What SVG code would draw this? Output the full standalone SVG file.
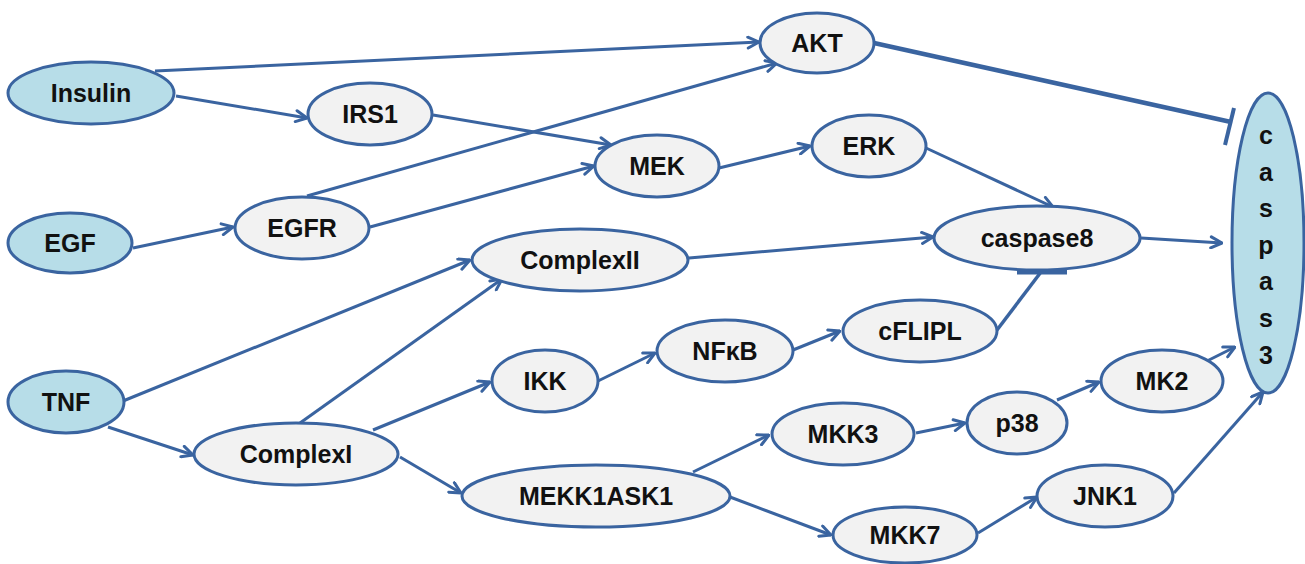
<svg xmlns="http://www.w3.org/2000/svg" width="1305" height="564" viewBox="0 0 1305 564">
<style>
.n{fill:#F2F2F2;stroke:#3A64A0;stroke-width:3}
.s{fill:#B7DDE8;stroke:#3A64A0;stroke-width:3}
.t{font-family:"Liberation Sans",Arial,sans-serif;font-weight:bold;font-size:25px;fill:#111;text-anchor:middle}
.e{stroke:#3A64A0;stroke-width:3;fill:none;marker-end:url(#arr)}
.i{stroke:#3A64A0;fill:none}
</style>
<defs>
<marker id="arr" markerUnits="userSpaceOnUse" viewBox="0 0 14 14" refX="13" refY="7" markerWidth="14" markerHeight="14" orient="auto">
<path d="M2,1.5 L13,7 L2,12.5" fill="none" stroke="#3A64A0" stroke-width="3" stroke-linecap="round" stroke-linejoin="round"/>
</marker>
</defs>
<rect width="1305" height="564" fill="#fff"/>
<g id="connectors">
<line class="e" x1="155" y1="71" x2="759" y2="42"/>
<line class="e" x1="176" y1="96" x2="307" y2="118"/>
<line class="e" x1="433" y1="115" x2="611" y2="145"/>
<line class="e" x1="307" y1="196" x2="777" y2="63"/>
<line class="e" x1="370" y1="227" x2="594" y2="166"/>
<line class="e" x1="719" y1="168" x2="810" y2="146"/>
<line class="e" x1="926" y1="148" x2="1053" y2="207"/>
<line class="e" x1="133" y1="248" x2="233" y2="227"/>
<line class="e" x1="689" y1="258" x2="933" y2="237"/>
<line class="e" x1="1141" y1="238" x2="1222" y2="243"/>
<line class="i" stroke-width="4.5" x1="874" y1="43" x2="1231" y2="122"/>
<line class="i" stroke-width="4" x1="1234" y1="108" x2="1225" y2="145"/>
<line class="i" stroke-width="3.5" x1="997" y1="330" x2="1041" y2="272"/>
<line class="i" stroke-width="5" x1="1017" y1="272" x2="1067" y2="272"/>
<line class="e" x1="123" y1="401" x2="470" y2="260"/>
<line class="e" x1="108" y1="427" x2="193" y2="455"/>
<line class="e" x1="300" y1="423" x2="502" y2="279"/>
<line class="e" x1="373" y1="430" x2="490" y2="382"/>
<line class="e" x1="598" y1="381" x2="655" y2="353"/>
<line class="e" x1="793" y1="350" x2="840" y2="331"/>
<line class="e" x1="400" y1="457" x2="461" y2="493"/>
<line class="e" x1="693" y1="472" x2="769" y2="435"/>
<line class="e" x1="730" y1="497" x2="831" y2="535"/>
<line class="e" x1="916" y1="433" x2="965" y2="423"/>
<line class="e" x1="1057" y1="400" x2="1099" y2="382"/>
<line class="e" x1="1203" y1="363" x2="1235" y2="347"/>
<line class="e" x1="978" y1="533" x2="1037" y2="497"/>
<line class="e" x1="1174" y1="493" x2="1263" y2="392"/>
</g>
<g id="Insulin"><ellipse class="s" cx="91" cy="93" rx="83" ry="31"/><text class="t" x="91" y="102">Insulin</text></g>
<g id="EGF"><ellipse class="s" cx="70" cy="243" rx="62" ry="30"/><text class="t" x="70" y="252">EGF</text></g>
<g id="TNF"><ellipse class="s" cx="66" cy="402" rx="58" ry="31"/><text class="t" x="66" y="411">TNF</text></g>
<g id="IRS1"><ellipse class="n" cx="370" cy="114" rx="62" ry="31"/><text class="t" x="370" y="123">IRS1</text></g>
<g id="AKT"><ellipse class="n" cx="817" cy="43" rx="57" ry="30"/><text class="t" x="817" y="52">AKT</text></g>
<g id="MEK"><ellipse class="n" cx="657" cy="166" rx="62" ry="31"/><text class="t" x="657" y="175">MEK</text></g>
<g id="ERK"><ellipse class="n" cx="869" cy="146" rx="57" ry="31"/><text class="t" x="869" y="155">ERK</text></g>
<g id="EGFR"><ellipse class="n" cx="302" cy="228" rx="67" ry="31"/><text class="t" x="302" y="237">EGFR</text></g>
<g id="ComplexII"><ellipse class="n" cx="580" cy="260" rx="108" ry="31"/><text class="t" x="580" y="269">ComplexII</text></g>
<g id="caspase8"><ellipse class="n" cx="1037" cy="238" rx="103" ry="32"/><text class="t" x="1037" y="247">caspase8</text></g>
<g id="cFLIPL"><ellipse class="n" cx="920" cy="331" rx="77" ry="31"/><text class="t" x="920" y="340">cFLIPL</text></g>
<g id="NFkB"><ellipse class="n" cx="725" cy="351" rx="68" ry="31"/><text class="t" x="725" y="360">NFκB</text></g>
<g id="IKK"><ellipse class="n" cx="545" cy="381" rx="53" ry="31"/><text class="t" x="545" y="390">IKK</text></g>
<g id="ComplexI"><ellipse class="n" cx="296" cy="454" rx="102" ry="31"/><text class="t" x="296" y="463">ComplexI</text></g>
<g id="MEKK1ASK1"><ellipse class="n" cx="596" cy="496" rx="134" ry="31"/><text class="t" x="596" y="505">MEKK1ASK1</text></g>
<g id="MKK3"><ellipse class="n" cx="843" cy="434" rx="71" ry="31"/><text class="t" x="843" y="443">MKK3</text></g>
<g id="p38"><ellipse class="n" cx="1017" cy="423" rx="50" ry="31"/><text class="t" x="1017" y="432">p38</text></g>
<g id="MK2"><ellipse class="n" cx="1162" cy="381" rx="61" ry="31"/><text class="t" x="1162" y="390">MK2</text></g>
<g id="JNK1"><ellipse class="n" cx="1105" cy="496" rx="68" ry="31"/><text class="t" x="1105" y="505">JNK1</text></g>
<g id="MKK7"><ellipse class="n" cx="905" cy="535" rx="72" ry="28"/><text class="t" x="905" y="544">MKK7</text></g>
<g id="caspas3"><ellipse class="s" cx="1268" cy="243" rx="36" ry="150"/>
<text class="t" x="1266"><tspan x="1266" y="144">c</tspan><tspan x="1266" y="181">a</tspan><tspan x="1266" y="217">s</tspan><tspan x="1266" y="254">p</tspan><tspan x="1266" y="290">a</tspan><tspan x="1266" y="327">s</tspan><tspan x="1266" y="364">3</tspan></text></g>
</svg>
